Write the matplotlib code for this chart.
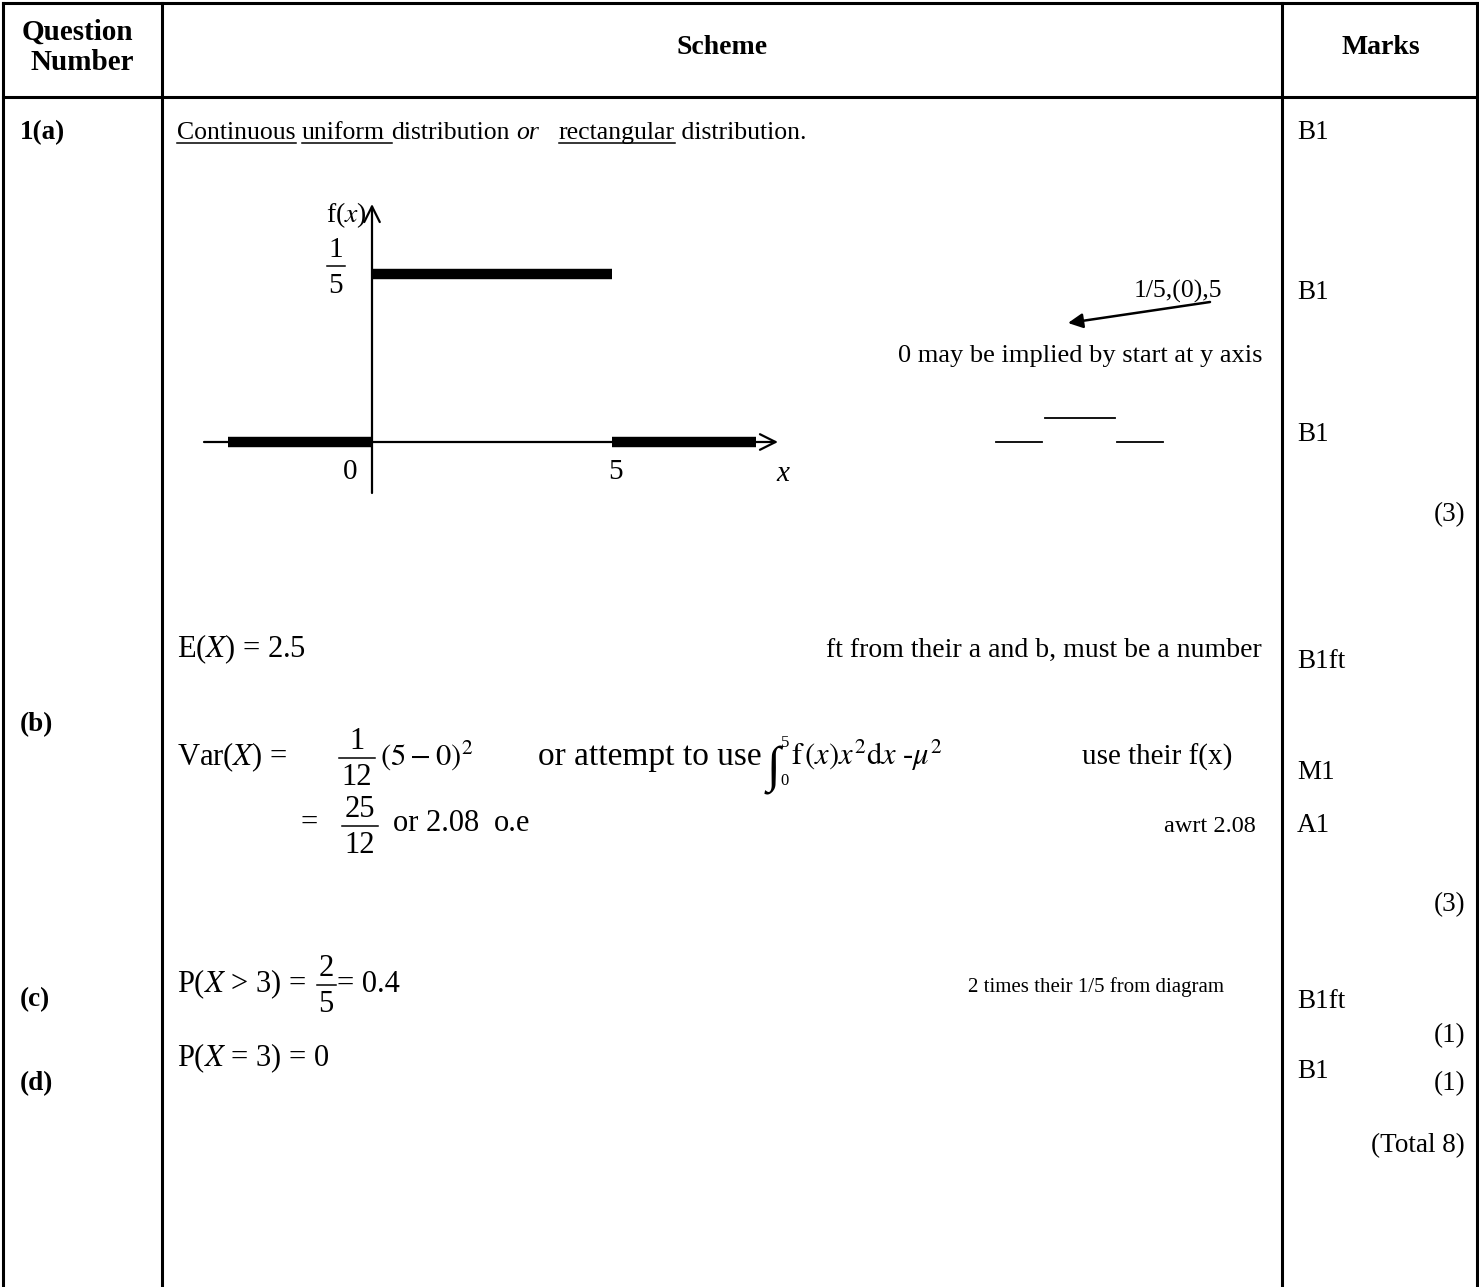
import matplotlib
matplotlib.use('Agg')
import matplotlib.pyplot as plt

W, H = 1479, 1287
plt.rcParams['font.family'] = ['Liberation Serif', 'DejaVu Serif']
plt.rcParams['mathtext.fontset'] = 'stix'

# ---- data ----
headers = ["Question", "Number", "Scheme", "Marks"]
parts = ["1(a)", "(b)", "(c)", "(d)"]
dist_a, dist_b = 0, 5
density = 1 / 5
left_zero = [-3, 0]
right_zero = [5, 8]
marks = ["B1", "B1", "B1", "B1ft", "M1", "A1", "B1ft", "B1"]
subtotals = ["(3)", "(3)", "(1)", "(1)", "(Total 8)"]

A_SIZE = 18.5    # part (a) sentence
EQ = 22          # equations in (b)-(d)
MARK = 19.5

fig = plt.figure(figsize=(W / 100, H / 100), dpi=100)
ax = fig.add_axes([0, 0, 1, 1])
ax.set_xlim(0, W)
ax.set_ylim(H, 0)
ax.axis('off')

LW = 2.2
# table frame
ax.plot([3, 1477], [3, 3], color='k', lw=LW, solid_capstyle='projecting')
ax.plot([3, 1477], [97, 97], color='k', lw=LW)
for xv in (3, 162, 1282, 1477):
    ax.plot([xv, xv], [3, H], color='k', lw=LW)

# headers
ax.text(77, 32, headers[0], ha='center', va='center', fontsize=21, fontweight='bold')
ax.text(82, 63, headers[1], ha='center', va='center', fontsize=21, fontweight='bold')
ax.text(722, 48, headers[2], ha='center', va='center', fontsize=20, fontweight='bold')
ax.text(1381, 48, headers[3], ha='center', va='center', fontsize=20, fontweight='bold')

# part labels
for lab, yb in zip(parts, [139, 731, 1006, 1090]):
    ax.text(20, yb, lab, ha='left', va='baseline', fontsize=19.5, fontweight='bold')

fig.canvas.draw()
R = fig.canvas.get_renderer()


def width(s, size, **kw):
    t = ax.text(0, 0, s, fontsize=size, **kw)
    w = t.get_window_extent(renderer=R).width
    t.remove()
    return w


def run(x, y, pieces, size):
    sp = width("n n", size) - width("nn", size)
    for s, kw, ul in pieces:
        nsp = len(s) - len(s.rstrip(' '))
        core = s.rstrip(' ')
        t = ax.text(x, y, core, fontsize=size, va='baseline', ha='left', **kw)
        w = t.get_window_extent(renderer=R).width
        if ul:
            ax.plot([x, x + w + nsp * sp], [y + 4, y + 4], color='k', lw=1.1)
        x += w + nsp * sp
    return x


def txt(x, y, s, size, ha='left', **kw):
    t = ax.text(x, y, s, fontsize=size, va='baseline', ha=ha, **kw)
    return t.get_window_extent(renderer=R).x1


def frac(xc, ybar, num, den, size, bw=None):
    if bw is None:
        bw = max(width(num, size), width(den, size)) + 5
    ax.text(xc, ybar - 9, num, ha='center', va='baseline', fontsize=size)
    ax.text(xc, ybar + 27, den, ha='center', va='baseline', fontsize=size)
    ax.plot([xc - bw / 2, xc + bw / 2], [ybar, ybar], color='k', lw=1.1)


# (a) text line
run(177, 139, [("Continuous", {}, True), (" ", {}, False), ("uniform ", {}, True),
               ("distribution ", {}, False), ("or", {'style': 'italic'}, False),
               ("   ", {}, False), ("rectangular", {}, True), (" distribution.", {}, False)],
    A_SIZE)

# graph
gx0, gx1, gy0, gy1 = 180, 820, 190, 500
ox, sx = 372, 48.0
oy, sy = 442, 840.0
g = fig.add_axes([gx0 / W, 1 - gy1 / H, (gx1 - gx0) / W, (gy1 - gy0) / H])
g.set_xlim((gx0 - ox) / sx, (gx1 - ox) / sx)
g.set_ylim((oy - gy1) / sy, (oy - gy0) / sy)
g.axis('off')
g.patch.set_alpha(0)
g.annotate("", xy=((778 - ox) / sx, 0), xytext=((204 - ox) / sx, 0),
           arrowprops=dict(arrowstyle='->', lw=1.6, mutation_scale=28, shrinkA=0, shrinkB=0))
g.annotate("", xy=(0, (oy - 204) / sy), xytext=(0, (oy - 493) / sy),
           arrowprops=dict(arrowstyle='->', lw=1.6, mutation_scale=28, shrinkA=0, shrinkB=0))
BAR = 7.5
g.plot(left_zero, [0, 0], color='k', lw=BAR, solid_capstyle='butt')
g.plot([dist_a, dist_b], [density, density], color='k', lw=BAR, solid_capstyle='butt')
g.plot(right_zero, [0, 0], color='k', lw=BAR, solid_capstyle='butt')

txt(367, 222, r"f($x$)", 20, ha='right')
frac(336, 266, "1", "5", 21, bw=18)
txt(350, 479, "0", 21, ha='center')
txt(616, 479, "5", 21, ha='center')
txt(783, 481, "x", 21, ha='center', style='italic')

# annotation on right
txt(1222, 298, "1/5,(0),5", 18.5, ha='right')
ax.annotate("", xy=(1068, 323), xytext=(1210, 302),
            arrowprops=dict(arrowstyle='-|>', lw=1.8, mutation_scale=22, color='k',
                            shrinkA=0, shrinkB=0))
txt(1262, 362, "0 may be implied by start at y axis", 19, ha='right')
ax.plot([996, 1042], [442, 442], color='k', lw=1.3)
ax.plot([1045, 1115], [418, 418], color='k', lw=1.3)
ax.plot([1117, 1163], [442, 442], color='k', lw=1.3)

# marks column
for m, yb in zip(marks, [139, 299, 441, 668, 779, 832, 1008, 1078]):
    txt(1297, yb, m, MARK)
for s, yb in zip(subtotals, [521, 911, 1042, 1090, 1152]):
    txt(1465, yb, s, MARK, ha='right')

# (b)
txt(177, 657, r"E($X$) = 2.5", EQ)
txt(1262, 657, "ft from their a and b, must be a number", 20, ha='right')

txt(177, 765, r"Var($X$) =", EQ)
frac(357, 758, "1", "12", EQ)
txt(380, 765, r"$(5-0)^2$", EQ)
txt(538, 765, "or attempt to use", 24)
xi = txt(767, 781, "\u222b", 36)
txt(xi, 747, "5", 12)
txt(xi, 785, "0", 12)
txt(xi + 10, 765, r"$\mathrm{f}\,(x)x^2\mathrm{d}x$ -$\mu^2$", EQ)
txt(1232, 765, "use their f(x)", 21, ha='right')

txt(300, 831, "=", EQ)
frac(360, 826, "25", "12", EQ)
txt(393, 831, "or 2.08", EQ)
txt(494, 831, "o.e", EQ)
txt(1256, 832, "awrt 2.08", 17.5, ha='right')

# (c)
txt(177, 992, r"P($X$ > 3) =", EQ)
frac(326, 985, "2", "5", EQ, bw=19)
txt(337, 992, "= 0.4", EQ)
txt(1224, 992, "2 times their 1/5 from diagram", 15, ha='right')

# (d)
txt(177, 1066, r"P($X$ = 3) = 0", EQ)

fig.savefig("out.png", dpi=100)
